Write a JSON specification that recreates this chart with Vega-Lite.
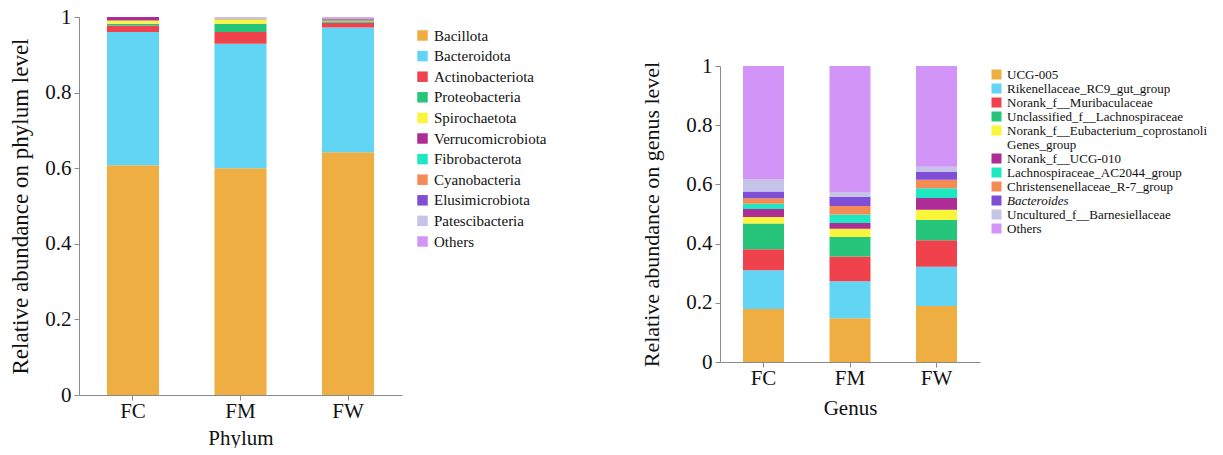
{
  "$schema": "https://vega.github.io/schema/vega-lite/v6.json",
  "background": "white",
  "padding": {"left": 9, "top": 6, "right": 0, "bottom": 0},
  "config": {
    "font": "Liberation Serif",
    "view": {"stroke": null},
    "axis": {"grid": false, "domainColor": "#8a8a8a", "tickColor": "#8a8a8a", "labelColor": "#111", "titleColor": "#111", "labelFont": "Liberation Serif", "titleFont": "Liberation Serif", "titleFontWeight": "normal", "labelFontSize": 21, "titleFontSize": 21, "tickSize": 5},
    "legend": {"labelFont": "Liberation Serif", "labelColor": "#111", "symbolType": "square", "symbolStrokeWidth": 0, "labelLimit": 0}
  },
  "datasets": {
    "phylum": [
      {"group": "FC", "taxon": "Bacillota", "value": 0.608},
      {"group": "FC", "taxon": "Bacteroidota", "value": 0.352},
      {"group": "FC", "taxon": "Actinobacteriota", "value": 0.0175},
      {"group": "FC", "taxon": "Proteobacteria", "value": 0.0045},
      {"group": "FC", "taxon": "Spirochaetota", "value": 0.0087},
      {"group": "FC", "taxon": "Verrucomicrobiota", "value": 0.009},
      {"group": "FC", "taxon": "Fibrobacterota", "value": 0.0},
      {"group": "FC", "taxon": "Cyanobacteria", "value": 0.0},
      {"group": "FC", "taxon": "Elusimicrobiota", "value": 0.0},
      {"group": "FC", "taxon": "Patescibacteria", "value": 0.0003},
      {"group": "FC", "taxon": "Others", "value": 0.0},
      {"group": "FM", "taxon": "Bacillota", "value": 0.6},
      {"group": "FM", "taxon": "Bacteroidota", "value": 0.329},
      {"group": "FM", "taxon": "Actinobacteriota", "value": 0.031},
      {"group": "FM", "taxon": "Proteobacteria", "value": 0.022},
      {"group": "FM", "taxon": "Spirochaetota", "value": 0.012},
      {"group": "FM", "taxon": "Verrucomicrobiota", "value": 0.001},
      {"group": "FM", "taxon": "Fibrobacterota", "value": 0.0},
      {"group": "FM", "taxon": "Cyanobacteria", "value": 0.0},
      {"group": "FM", "taxon": "Elusimicrobiota", "value": 0.0},
      {"group": "FM", "taxon": "Patescibacteria", "value": 0.005},
      {"group": "FM", "taxon": "Others", "value": 0.0},
      {"group": "FW", "taxon": "Bacillota", "value": 0.642},
      {"group": "FW", "taxon": "Bacteroidota", "value": 0.33},
      {"group": "FW", "taxon": "Actinobacteriota", "value": 0.013},
      {"group": "FW", "taxon": "Proteobacteria", "value": 0.004},
      {"group": "FW", "taxon": "Spirochaetota", "value": 0.002},
      {"group": "FW", "taxon": "Verrucomicrobiota", "value": 0.003},
      {"group": "FW", "taxon": "Fibrobacterota", "value": 0.001},
      {"group": "FW", "taxon": "Cyanobacteria", "value": 0.001},
      {"group": "FW", "taxon": "Elusimicrobiota", "value": 0.001},
      {"group": "FW", "taxon": "Patescibacteria", "value": 0.001},
      {"group": "FW", "taxon": "Others", "value": 0.002}
    ],
    "genus": [
      {"group": "FC", "taxon": "UCG-005", "value": 0.179},
      {"group": "FC", "taxon": "Rikenellaceae_RC9_gut_group", "value": 0.131},
      {"group": "FC", "taxon": "Norank_f__Muribaculaceae", "value": 0.071},
      {"group": "FC", "taxon": "Unclassified_f__Lachnospiraceae", "value": 0.087},
      {"group": "FC", "taxon": "Norank_f__Eubacterium_coprostanoli", "value": 0.022},
      {"group": "FC", "taxon": "Norank_f__UCG-010", "value": 0.027},
      {"group": "FC", "taxon": "Lachnospiraceae_AC2044_group", "value": 0.018},
      {"group": "FC", "taxon": "Christensenellaceae_R-7_group", "value": 0.018},
      {"group": "FC", "taxon": "Bacteroides", "value": 0.023},
      {"group": "FC", "taxon": "Uncultured_f__Barnesiellaceae", "value": 0.042},
      {"group": "FC", "taxon": "Others", "value": 0.382},
      {"group": "FM", "taxon": "UCG-005", "value": 0.148},
      {"group": "FM", "taxon": "Rikenellaceae_RC9_gut_group", "value": 0.125},
      {"group": "FM", "taxon": "Norank_f__Muribaculaceae", "value": 0.083},
      {"group": "FM", "taxon": "Unclassified_f__Lachnospiraceae", "value": 0.066},
      {"group": "FM", "taxon": "Norank_f__Eubacterium_coprostanoli", "value": 0.028},
      {"group": "FM", "taxon": "Norank_f__UCG-010", "value": 0.02},
      {"group": "FM", "taxon": "Lachnospiraceae_AC2044_group", "value": 0.028},
      {"group": "FM", "taxon": "Christensenellaceae_R-7_group", "value": 0.029},
      {"group": "FM", "taxon": "Bacteroides", "value": 0.031},
      {"group": "FM", "taxon": "Uncultured_f__Barnesiellaceae", "value": 0.016},
      {"group": "FM", "taxon": "Others", "value": 0.426},
      {"group": "FW", "taxon": "UCG-005", "value": 0.189},
      {"group": "FW", "taxon": "Rikenellaceae_RC9_gut_group", "value": 0.133},
      {"group": "FW", "taxon": "Norank_f__Muribaculaceae", "value": 0.089},
      {"group": "FW", "taxon": "Unclassified_f__Lachnospiraceae", "value": 0.069},
      {"group": "FW", "taxon": "Norank_f__Eubacterium_coprostanoli", "value": 0.034},
      {"group": "FW", "taxon": "Norank_f__UCG-010", "value": 0.04},
      {"group": "FW", "taxon": "Lachnospiraceae_AC2044_group", "value": 0.033},
      {"group": "FW", "taxon": "Christensenellaceae_R-7_group", "value": 0.029},
      {"group": "FW", "taxon": "Bacteroides", "value": 0.026},
      {"group": "FW", "taxon": "Uncultured_f__Barnesiellaceae", "value": 0.018},
      {"group": "FW", "taxon": "Others", "value": 0.34}
    ]
  },
  "hconcat": [
    {
      "data": {"name": "phylum"},
      "transform": [
        {"calculate": "indexof(['Bacillota', 'Bacteroidota', 'Actinobacteriota', 'Proteobacteria', 'Spirochaetota', 'Verrucomicrobiota', 'Fibrobacterota', 'Cyanobacteria', 'Elusimicrobiota', 'Patescibacteria', 'Others'], datum.taxon)", "as": "rank"}
      ],
      "width": 323,
      "height": 378,
      "mark": {"type": "bar"},
      "encoding": {
        "x": {"field": "group", "type": "nominal", "title": "Phylum",
              "scale": {"paddingInner": 0.516, "paddingOuter": 0.26},
              "axis": {"labelAngle": 0, "labelPadding": 0, "titlePadding": 6}},
        "y": {"field": "value", "type": "quantitative", "stack": "zero",
              "title": "Relative abundance on phylum level",
              "scale": {"domain": [0, 1], "nice": false},
              "axis": {"values": [0, 0.2, 0.4, 0.6, 0.8, 1], "format": "~g", "labelPadding": 3, "titlePadding": 12, "titleFontSize": 23}},
        "order": {"field": "rank", "type": "quantitative", "sort": "ascending"},
        "color": {"field": "taxon", "type": "nominal",
          "scale": {
            "domain": ["Bacillota", "Bacteroidota", "Actinobacteriota", "Proteobacteria", "Spirochaetota", "Verrucomicrobiota", "Fibrobacterota", "Cyanobacteria", "Elusimicrobiota", "Patescibacteria", "Others"],
            "range": ["#EFAE42", "#62D5F5", "#F0424C", "#27C47C", "#F9F53B", "#AE2C96", "#1EE8C2", "#F58B54", "#7E4FD6", "#C5C3E8", "#D394F8"]
          },
          "legend": {"title": null, "orient": "none", "legendX": 336, "legendY": 11, "labelFontSize": 15, "symbolSize": 110, "rowPadding": 4.6, "labelOffset": 4}
        }
      }
    },
    {
      "data": {"name": "genus"},
      "transform": [
        {"calculate": "indexof(['UCG-005', 'Rikenellaceae_RC9_gut_group', 'Norank_f__Muribaculaceae', 'Unclassified_f__Lachnospiraceae', 'Norank_f__Eubacterium_coprostanoli', 'Genes_group', 'Norank_f__UCG-010', 'Lachnospiraceae_AC2044_group', 'Christensenellaceae_R-7_group', 'Bacteroides', 'Uncultured_f__Barnesiellaceae', 'Others'], datum.taxon)", "as": "rank"}
      ],
      "width": 260,
      "height": 345,
      "mark": {"type": "bar"},
      "encoding": {
        "x": {"field": "group", "type": "nominal", "title": "Genus",
              "scale": {"paddingInner": 0.526, "paddingOuter": 0.266},
              "axis": {"labelAngle": 0, "labelPadding": 0, "titlePadding": 9}},
        "y": {"field": "value", "type": "quantitative", "stack": "zero",
              "title": "Relative abundance on genus level",
              "scale": {"domain": [0, 1], "nice": false, "range": [345, 49]},
              "axis": {"values": [0, 0.2, 0.4, 0.6, 0.8, 1], "format": "~g", "labelPadding": 3, "titlePadding": 22, "titleFontSize": 22}},
        "order": {"field": "rank", "type": "quantitative", "sort": "ascending"},
        "color": {"field": "taxon", "type": "nominal",
          "scale": {
            "domain": ["UCG-005", "Rikenellaceae_RC9_gut_group", "Norank_f__Muribaculaceae", "Unclassified_f__Lachnospiraceae", "Norank_f__Eubacterium_coprostanoli", "Genes_group", "Norank_f__UCG-010", "Lachnospiraceae_AC2044_group", "Christensenellaceae_R-7_group", "Bacteroides", "Uncultured_f__Barnesiellaceae", "Others"],
            "range": ["#EFAE42", "#62D5F5", "#F0424C", "#27C47C", "#F9F53B", "#FFFFFF", "#AE2C96", "#1EE8C2", "#F58B54", "#7E4FD6", "#C5C3E8", "#D394F8"]
          },
          "legend": {"title": null, "orient": "none", "legendX": 270, "legendY": 51, "labelFontSize": 13, "symbolSize": 100, "rowPadding": 0, "labelOffset": 4,
            "encode": {"labels": {"update": {"fontStyle": {"signal": "datum.value === 'Bacteroides' ? 'italic' : 'normal'"}}}}}
        }
      }
    }
  ],
  "spacing": 93,
  "resolve": {"scale": {"color": "independent"}}
}
